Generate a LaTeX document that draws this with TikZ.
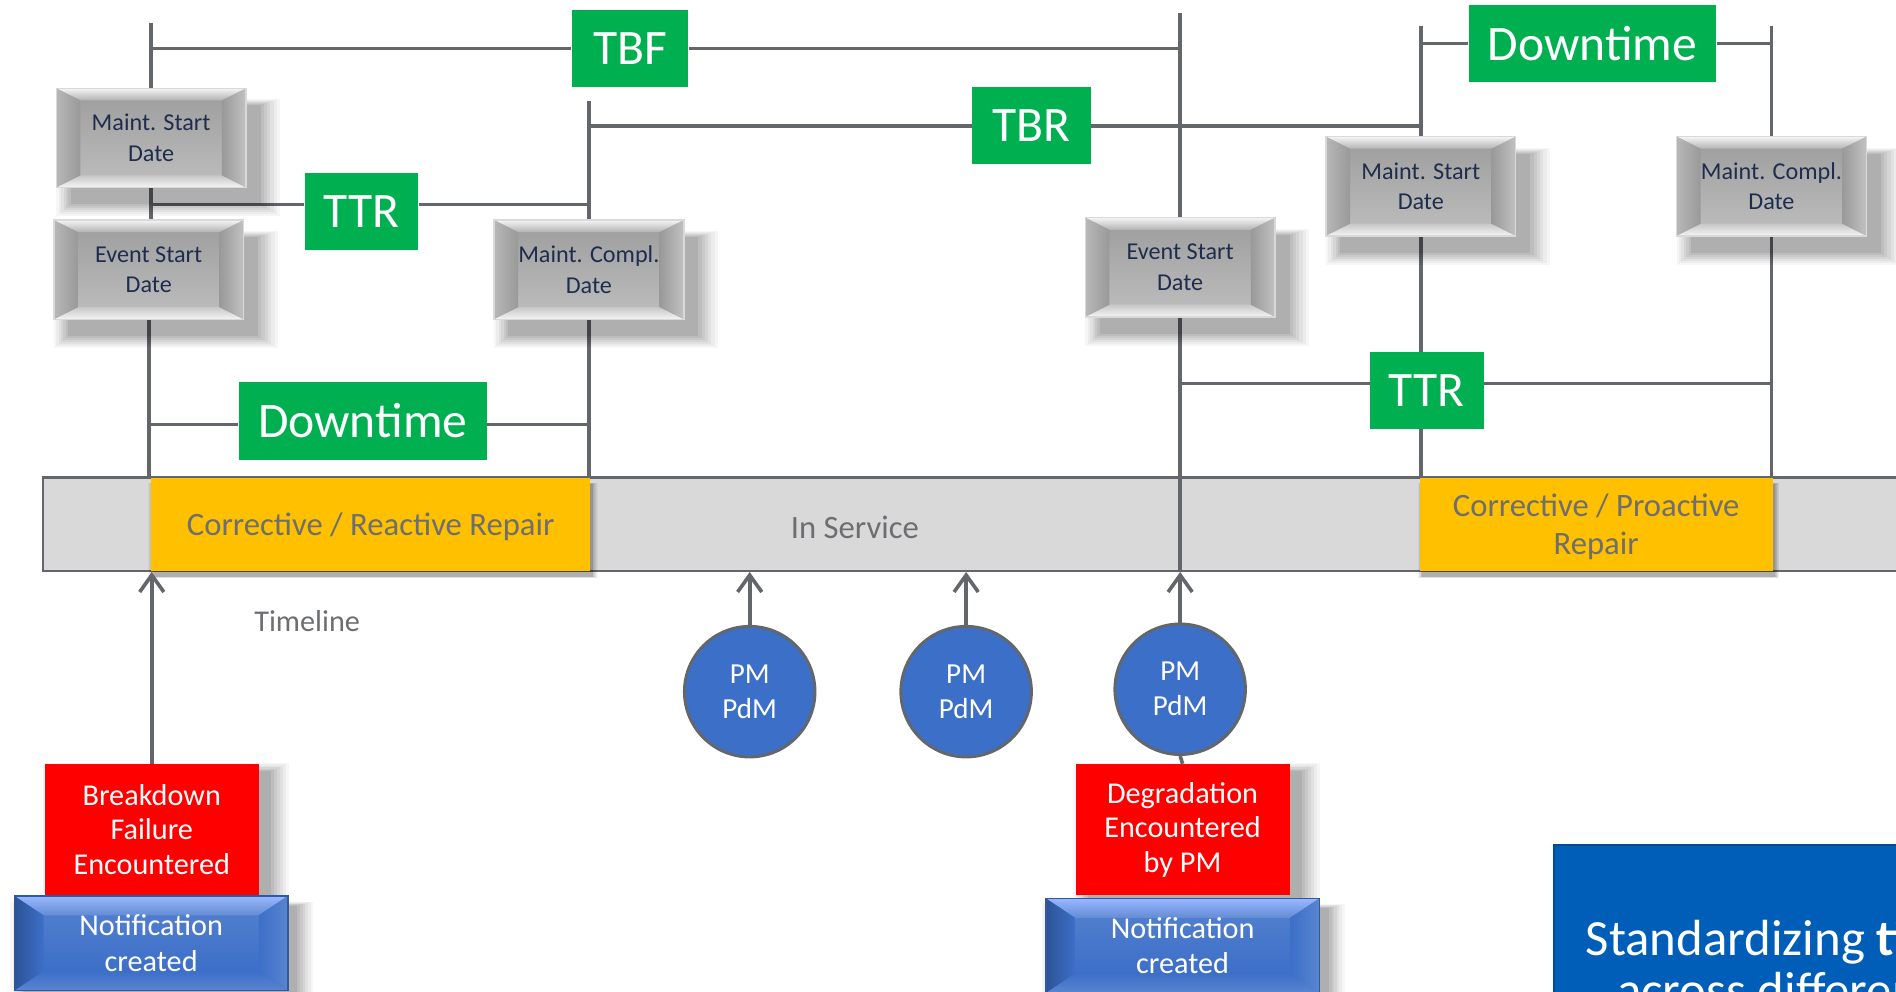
\documentclass[tikz,border=0pt]{standalone}
\usepackage{fontspec}
\setmainfont{Carlito}
\usetikzlibrary{calc,arrows.meta,backgrounds,shadows}
\definecolor{linegray}{HTML}{63666A}
\definecolor{tgreen}{HTML}{00B050}
\definecolor{tyellow}{HTML}{FFC000}
\definecolor{tred}{HTML}{FF0000}
\definecolor{pmblue}{HTML}{3C6FC8}
\definecolor{barfill}{HTML}{D9D9D9}
\definecolor{textgray}{HTML}{6D6E71}
\definecolor{datetext}{HTML}{1F2D4D}
\definecolor{stdblue}{HTML}{005EB8}

\newcommand{\bevelpaint}[2]{%
  \coordinate (bNW) at (path picture bounding box.north west);
  \coordinate (bNE) at (path picture bounding box.north east);
  \coordinate (bSE) at (path picture bounding box.south east);
  \coordinate (bSW) at (path picture bounding box.south west);
  \coordinate (iNW) at ($(bNW)+(#1,-#2)$);
  \coordinate (iNE) at ($(bNE)+(-#1,-#2)$);
  \coordinate (iSE) at ($(bSE)+(-#1,#2)$);
  \coordinate (iSW) at ($(bSW)+(#1,#2)$);
  \shade[bevel centre] (iNW) rectangle (iSE);
  \shade[bevel top] (bNW) -- (bNE) -- (iNE) -- (iNW) -- cycle;
  \shade[bevel bottom] (bSW) -- (bSE) -- (iSE) -- (iSW) -- cycle;
  \shade[bevel left] (bNW) -- (iNW) -- (iSW) -- (bSW) -- cycle;
  \shade[bevel right] (bNE) -- (iNE) -- (iSE) -- (bSE) -- cycle;
}

\tikzset{
  bevel centre/.style={}, bevel top/.style={}, bevel bottom/.style={},
  bevel left/.style={}, bevel right/.style={},
  shadowstep/.style n args={4}{general shadow={fill=black, opacity=#4,
    shadow xshift=#1, shadow yshift=#2, shadow scale=#3}},
  softshadow/.style n args={3}{
    shadowstep={#1}{#2}{1+6*#3}{0.035}, shadowstep={#1}{#2}{1+5*#3}{0.04},
    shadowstep={#1}{#2}{1+4*#3}{0.045}, shadowstep={#1}{#2}{1+3*#3}{0.05},
    shadowstep={#1}{#2}{1+2*#3}{0.055}, shadowstep={#1}{#2}{1+#3}{0.06},
    shadowstep={#1}{#2}{1}{0.07}},
  conn/.style={draw=linegray, line width=1.5pt},
  uparrow/.style={conn, -{Straight Barb[length=7pt,width=10pt]}},
  datebox/.style={minimum width=78.5pt, minimum height=41pt, inner sep=0pt,
    align=center, text=datetext, font=\fontsize{10}{12.5}\selectfont,
    fill=gray!60, draw=gray!30, line width=0.6pt,
    softshadow={6pt}{-7pt}{0.03},
    bevel centre/.style={top color=black!37!white, bottom color=black!27!white},
    bevel top/.style={top color=black!4!white, bottom color=black!30!white},
    bevel bottom/.style={top color=black!22!white, bottom color=black!4!white},
    bevel left/.style={left color=black!28!white, right color=black!40!white},
    bevel right/.style={left color=black!40!white, right color=black!24!white},
    path picture={\bevelpaint{10pt}{5pt}}},
  notebox/.style={minimum width=113pt, minimum height=39pt, inner sep=0pt,
    align=center, text=white, font=\fontsize{12.5}{14.5}\selectfont,
    fill=pmblue, draw=pmblue!80!black, line width=0.6pt,
    softshadow={4pt}{-4pt}{0.018},
    bevel centre/.style={top color=pmblue!90!white, bottom color=pmblue},
    bevel top/.style={top color=cyan!30!blue!40!white, bottom color=pmblue!80!white},
    bevel bottom/.style={top color=pmblue, bottom color=pmblue!85!white},
    bevel left/.style={left color=pmblue!75!black, right color=pmblue},
    bevel right/.style={left color=pmblue, right color=pmblue!85!white},
    path picture={\bevelpaint{12pt}{8pt}}},
  greenbox/.style={fill=tgreen, text=white, font=\fontsize{20.5}{24}\selectfont,
    inner sep=0pt, minimum height=32pt},
  repairbox/.style={fill=tyellow, text=textgray, font=\fontsize{13.5}{15.5}\selectfont,
    align=center, inner sep=0pt, minimum height=38.5pt, text depth=0pt,
    softshadow={1pt}{-2.5pt}{0.004}},
  redbox/.style={fill=tred, text=white, font=\fontsize{12.5}{14.25}\selectfont,
    align=center, inner sep=0pt, minimum width=88.5pt, minimum height=54pt,
    softshadow={5pt}{-3pt}{0.025}},
  pmnode/.style={circle, fill=pmblue, draw=linegray, line width=1.2pt, minimum size=54pt,
    inner sep=0pt, text=white, font=\fontsize{12}{14.5}\selectfont, align=center},
  labeltext/.style={text=textgray, font=\fontsize{12.5}{15}\selectfont},
  stdtext/.style={text=white, font=\fontsize{21}{25}\selectfont, inner sep=0pt}
}

\begin{document}
\begin{tikzpicture}[x=0.5pt,y=-0.5pt]
\useasboundingbox (0,0) rectangle (1568,820);
\clip (0,0) rectangle (1568,820);
\begin{scope}[on background layer]
\fill[white] (0,0) rectangle (1568,820);
\node[fill=barfill, draw=linegray, line width=1pt, minimum width=772.5pt, minimum height=38.5pt] (bar) at (808,433.5) {};
\end{scope}
\node[labeltext, font=\fontsize{13.5}{15.5}\selectfont] (insvc) at (707,436) {In Service};
\node[repairbox, minimum width=181.5pt] (crr) at (306.5,433.5) {Corrective / Reactive Repair};
\node[repairbox, minimum width=146pt] (cpr) at (1320,433.5) {Corrective / Proactive\\Repair};
\node[datebox] (msd1) at (125,114) {Maint. Start\\Date};
\node[datebox] (esd1) at (123,223) {Event Start\\Date};
\node[datebox] (mcd1) at (487,223) {Maint. Compl.\\Date};
\node[datebox] (esd2) at (976,221) {Event Start\\Date};
\node[datebox] (msd2) at (1175,154) {Maint. Start\\Date};
\node[datebox] (mcd2) at (1465,154) {Maint. Compl.\\Date};
\node[greenbox, minimum width=48pt] (tbf) at (521,40) {TBF};
\node[greenbox, minimum width=49pt] (tbr) at (853,104) {TBR};
\node[greenbox, minimum width=47pt] (ttr1) at (299,175) {TTR};
\node[greenbox, minimum width=47pt] (ttr2) at (1180,323) {TTR};
\node[greenbox, minimum width=102.5pt] (dt1) at (300,348) {Downtime};
\node[greenbox, minimum width=102.5pt] (dt2) at (1317,36) {Downtime};
\node[redbox] (bfe) at (125.5,686) {Breakdown\\Failure\\Encountered};
\node[notebox] (nc1) at (125,780) {Notification\\created};
\node[redbox] (dbp) at (978,686) {Degradation\\Encountered\\by PM};
\node[notebox] (nc2) at (978,782) {Notification\\created};
\foreach \px/\py [count=\i] in {620/572,799/572,976/570}
 \node[pmnode] (pm\i) at (\px,\py) {PM\\PdM};
\node[labeltext] (tl) at (254,514) {Timeline};
\node[fill=stdblue, draw=stdblue!80!black, line width=0.8pt, anchor=north west,
 minimum width=160pt, minimum height=80pt] (std) at (1284,698) {};
\node[stdtext, anchor=base west] (stdA) at (1311,790) {Standardizing \textbf{ti}};
\node[stdtext, anchor=base west] (stdB) at (1337,833) {across differen};
\path ([yshift=3pt]ttr1.west) coordinate (ttr1w) ([yshift=3pt]ttr1.east) coordinate (ttr1e)
 ([yshift=3pt]ttr2.west) coordinate (ttr2w) ([yshift=3pt]ttr2.east) coordinate (ttr2e)
 ([yshift=-1.5pt]dt1.west) coordinate (dt1w) ([yshift=-1.5pt]dt1.east) coordinate (dt1e);
\begin{scope}[on background layer]
\draw[conn] (msd1.north) -- ++(0,-53);
\draw[conn] (tbf.west) -- (msd1.north |- tbf.west);
\draw[conn] (tbf.east) -- (esd2.north |- tbf.east);
\draw[conn] (esd2.north) -- ++(0,-169);
\draw[conn] (mcd1.north) -- ++(0,-98);
\draw[conn] (tbr.west) -- (mcd1.north |- tbr.west);
\draw[conn] (tbr.east) -- (msd2.north |- tbr.east);
\draw[conn] (msd1.south) -- (msd1.south |- esd1.north);
\draw[conn] (ttr1w) -- (msd1.south |- ttr1w);
\draw[conn] (ttr1e) -- (mcd1.north |- ttr1e);
\draw[conn] (esd1.south) -- (esd1.south |- bar.north);
\draw[conn] (mcd1.south) -- (mcd1.south |- bar.north);
\draw[conn] (dt1w) -- (esd1.south |- dt1w);
\draw[conn] (dt1e) -- (mcd1.south |- dt1e);
\draw[conn] (esd2.south) -- (esd2.south |- bar.south);
\draw[conn] (ttr2w) -- (esd2.south |- ttr2w);
\draw[conn] (ttr2e) -- (mcd2.south |- ttr2e);
\draw[conn] (msd2.north) -- ++(0,-91);
\draw[conn] (mcd2.north) -- ++(0,-91);
\draw[conn] (dt2.west) -- (msd2.north |- dt2.west);
\draw[conn] (dt2.east) -- (mcd2.north |- dt2.east);
\draw[conn] (msd2.south) -- (msd2.south |- bar.north);
\draw[conn] (mcd2.south) -- (mcd2.south |- bar.north);
\draw[conn] (pm3.south) -- (dbp.north);
\end{scope}
\draw[uparrow] (bfe.north) -- (bfe.north |- bar.south);
\foreach \i in {1,2,3}
 \draw[uparrow] (pm\i.north) -- (pm\i.north |- bar.south);
\end{tikzpicture}
\end{document}
